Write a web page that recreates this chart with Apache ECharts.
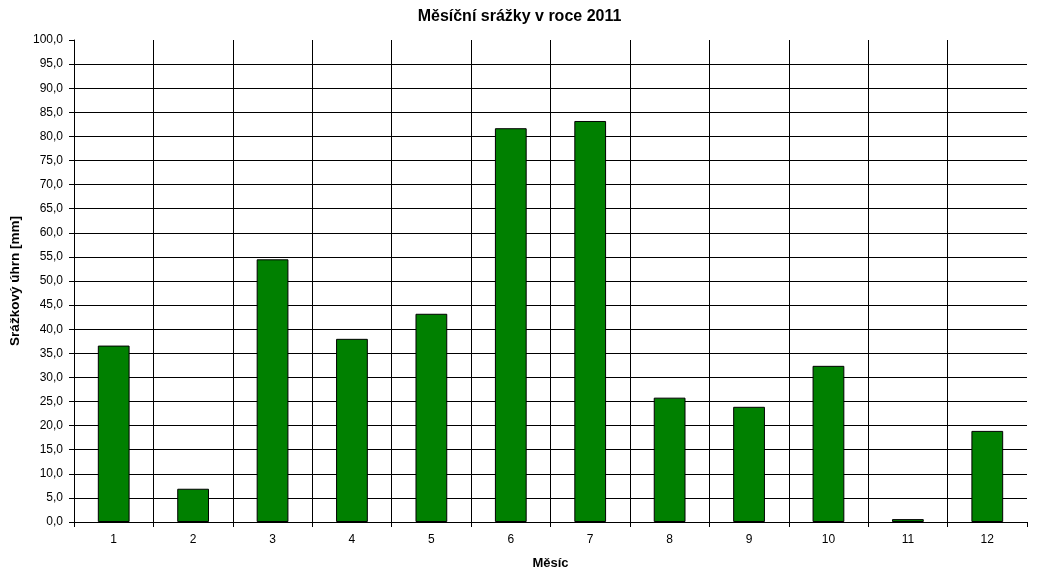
<!DOCTYPE html>
<html>
<head>
<meta charset="utf-8">
<script src="https://cdn.jsdelivr.net/npm/echarts@6/dist/echarts.min.js"></script>
<style>html,body{margin:0;padding:0;background:#fff}#c{width:1039px;height:578px}</style>
</head>
<body>
<div id="c"></div>
<script>
var months = ['1','2','3','4','5','6','7','8','9','10','11','12'];
var rainfall = [36.6, 6.9, 54.5, 38.0, 43.2, 81.7, 83.2, 25.8, 23.9, 32.4, 0.6, 18.9];
var titleText = 'Měsíční srážky v roce 2011';
var xName = 'Měsíc';
var yName = 'Srážkový úhrn [mm]';

var chart = echarts.init(document.getElementById('c'));
var font = 'Liberation Sans, Arial, sans-serif';
chart.setOption({
  animation: false,
  backgroundColor: '#fff',
  title: {text: titleText, left: 'center', top: 4, textStyle: {fontFamily: font, fontSize: 16, fontWeight: 'bold', color: '#000'}},
  grid: {left: 74, right: 12, top: 40, bottom: 56, containLabel: false, outerBoundsMode: 'none'},
  xAxis: {
    type: 'category', data: months, boundaryGap: true,
    name: xName, nameLocation: 'middle', nameGap: 35,
    nameTextStyle: {fontFamily: font, fontSize: 13, fontWeight: 'bold', color: '#000'},
    axisLine: {lineStyle: {color: '#000', width: 1}},
    axisTick: {show: true, length: 5, lineStyle: {color: '#000'}},
    axisLabel: {fontFamily: font, fontSize: 12, color: '#000', margin: 12},
    splitLine: {show: true, showMaxLine: false, lineStyle: {color: '#000', width: 1}}
  },
  yAxis: {
    type: 'value', min: 0, max: 100, interval: 5,
    name: yName, nameLocation: 'middle', nameGap: 52, nameRotate: 90,
    nameTextStyle: {fontFamily: font, fontSize: 13.5, fontWeight: 'bold', color: '#000'},
    axisLine: {show: true, lineStyle: {color: '#000', width: 1}},
    axisTick: {show: true, length: 5, lineStyle: {color: '#000'}},
    axisLabel: {fontFamily: font, fontSize: 12, color: '#000', margin: 11,
      formatter: function (v) { return v.toFixed(1).replace('.', ','); }},
    splitLine: {show: true, showMaxLine: false, lineStyle: {color: '#000', width: 1}}
  },
  series: [{
    type: 'bar', data: rainfall, barWidth: '40%',
    itemStyle: {color: '#008000', borderColor: '#000', borderWidth: 1}
  }]
});
</script>
</body>
</html>
